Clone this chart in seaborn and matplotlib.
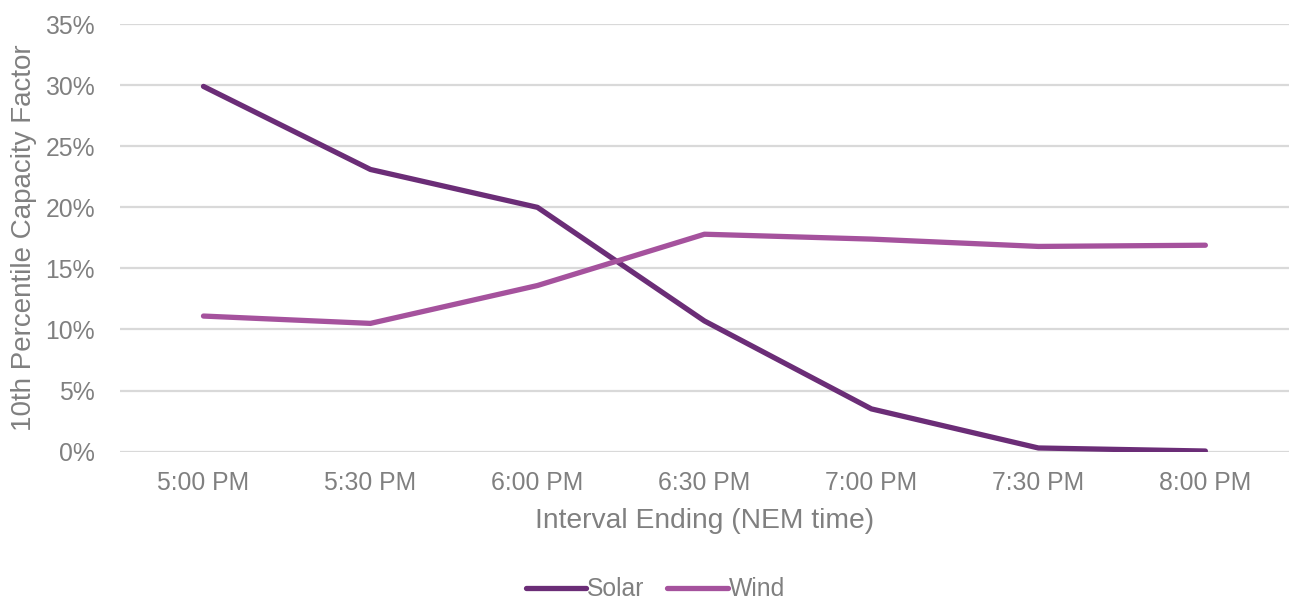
import matplotlib
matplotlib.use("Agg")
import matplotlib.pyplot as plt
import seaborn as sns
import pandas as pd
from matplotlib.ticker import PercentFormatter

intervals = ["5:00 PM", "5:30 PM", "6:00 PM", "6:30 PM", "7:00 PM", "7:30 PM", "8:00 PM"]
solar = [29.9, 23.1, 20.0, 10.7, 3.5, 0.3, 0.05]
wind = [11.1, 10.5, 13.6, 17.8, 17.4, 16.8, 16.9]
series_names = ["Solar", "Wind"]
colors = ["#6B2D77", "#A5529D"]

df = pd.DataFrame({
    "interval": intervals * 2,
    "value": solar + wind,
    "series": [series_names[0]] * len(intervals) + [series_names[1]] * len(intervals),
})

sns.set_theme(style="white")
plt.rcParams["font.family"] = ["Liberation Sans", "DejaVu Sans"]
text_color = "#808080"

fig = plt.figure(figsize=(12.93, 6.03), dpi=100)
ax = fig.add_axes([0.0928, 0.251, 0.904, 0.709])

sns.lineplot(data=df, x="interval", y="value", hue="series", palette=colors,
             linewidth=3.8, sort=False, ax=ax, legend=True)
for ln in ax.get_lines():
    ln.set_solid_capstyle("round")
    ln.set_solid_joinstyle("round")

ax.set_xlim(-0.5, len(intervals) - 0.5)
ax.set_ylim(0, 35)
ax.set_yticks(range(0, 36, 5))
ax.yaxis.set_major_formatter(PercentFormatter(decimals=0))
ax.grid(axis="y", color="#D9D9D9", linewidth=1.6)
ax.grid(axis="x", visible=False)
ax.set_axisbelow(True)
for s in ax.spines.values():
    s.set_visible(False)

ax.tick_params(axis="both", length=0, labelsize=17.8, colors=text_color)
ax.tick_params(axis="x", pad=14)
ax.tick_params(axis="y", pad=18)
ax.set_xlabel("Interval Ending (NEM time)", fontsize=20.3, color=text_color, labelpad=9)
ax.set_ylabel("10th Percentile Capacity Factor", fontsize=20, color=text_color, labelpad=6)

leg = ax.legend(loc="center", bbox_to_anchor=(0.458, -0.322), ncol=2, frameon=False,
                fontsize=17.8, handlelength=2.45, handletextpad=0.05, columnspacing=0.9,
                borderpad=0.2)
for t in leg.get_texts():
    t.set_color(text_color)
for h in leg.get_lines():
    h.set_linewidth(3.8)
    h.set_solid_capstyle("round")

fig.savefig("out.png", dpi=100)
